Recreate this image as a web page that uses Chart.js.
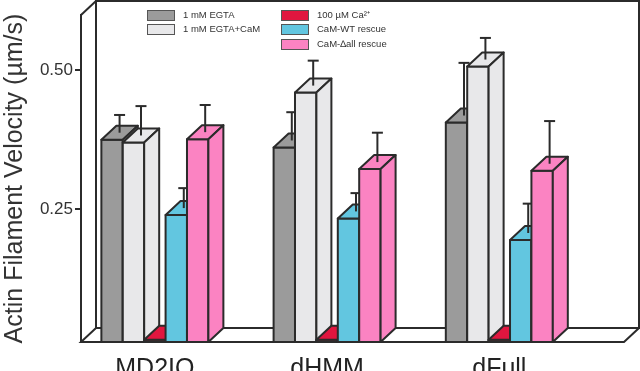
<!DOCTYPE html>
<html>
<head>
<meta charset="utf-8">
<script src="https://cdn.jsdelivr.net/npm/chart.js@4.4.0/dist/chart.umd.min.js"></script>
<style>
  html, body { margin: 0; padding: 0; background: #fff; }
  canvas { display: block; }
</style>
</head>
<body>
<canvas id="chart" width="640" height="371"></canvas>
<script>
// categories and series (velocities in um/s)
const categories = ['MD2IQ', 'dHMM', 'dFull'];
const seriesLabels = ['1 mM EGTA', '1 mM EGTA+CaM', '100 µM Ca²⁺', 'CaM-WT rescue', 'CaM-∆all rescue'];
const seriesColors = ['#9b9b9b', '#e8e8ea', '#e0163f', '#62c6e0', '#fb83c2'];

const egta = [0.375, 0.361, 0.406];
const egtaCaM = [0.370, 0.460, 0.507];
const calcium = [0.014, 0.014, 0.014];
const camWT = [0.239, 0.233, 0.194];
const camDall = [0.376, 0.322, 0.319];

// error bars (upper only)
const egtaErr = [0.032, 0.051, 0.095];
const egtaCaMErr = [0.053, 0.045, 0.039];
const calciumErr = [0, 0, 0];
const camWTErr = [0.036, 0.033, 0.053];
const camDallErr = [0.049, 0.053, 0.077];

const yMin = 0.01, yMax = 0.6;
const yTicks = [0.25, 0.50];

const seriesValues = [egta, egtaCaM, calcium, camWT, camDall];
const seriesErrors = [egtaErr, egtaCaMErr, calciumErr, camWTErr, camDallErr];

// depth offset of the fake 3D boxes
const DX = 15, DY = -14;
const OUTLINE = '#2b2b2b';

function poly(ctx, pts, fill) {
  ctx.beginPath();
  ctx.moveTo(pts[0][0], pts[0][1]);
  for (let i = 1; i < pts.length; i++) ctx.lineTo(pts[i][0], pts[i][1]);
  ctx.closePath();
  if (fill) { ctx.fillStyle = fill; ctx.fill(); }
  ctx.stroke();
}

function line(ctx, x1, y1, x2, y2) {
  ctx.beginPath();
  ctx.moveTo(x1, y1);
  ctx.lineTo(x2, y2);
  ctx.stroke();
}

// back wall + floor, drawn under the bars
const frame3d = {
  id: 'frame3d',
  beforeDatasetsDraw(chart) {
    const { ctx, chartArea: a } = chart;
    ctx.save();
    ctx.strokeStyle = OUTLINE;
    ctx.lineWidth = 2;
    ctx.strokeRect(a.left + DX, a.top + DY, a.right - a.left, a.bottom - a.top);
    poly(ctx, [[a.left, a.bottom], [a.right, a.bottom], [a.right + DX, a.bottom + DY], [a.left + DX, a.bottom + DY]], '#fff');
    line(ctx, a.left, a.top, a.left + DX, a.top + DY);
    ctx.restore();
  },
  // boxes redrawn left to right so neighbours hide the side faces
  afterDatasetsDraw(chart) {
    const ctx = chart.ctx;
    const yScale = chart.scales.y;
    ctx.save();
    ctx.strokeStyle = OUTLINE;
    ctx.lineWidth = 2;
    ctx.lineJoin = 'round';
    categories.forEach((c, i) => {
      chart.data.datasets.forEach((ds, d) => {
        const bar = chart.getDatasetMeta(d).data[i];
        const { x, y, base, width } = bar.getProps(['x', 'y', 'base', 'width'], true);
        const l = x - width / 2, r = x + width / 2;
        const col = ds.backgroundColor;
        poly(ctx, [[l, base], [l, y], [r, y], [r, base]], col);
        poly(ctx, [[l, y], [l + DX, y + DY], [r + DX, y + DY], [r, y]], col);
        poly(ctx, [[r, y], [r + DX, y + DY], [r + DX, base + DY], [r, base]], col);

        const err = seriesErrors[d][i];
        if (err > 0) {
          const ex = x + DX / 2;
          const ey = y + DY / 2;
          const cap = yScale.getPixelForValue(ds.data[i].y + err) + DY / 2;
          line(ctx, ex, ey, ex, cap);
          line(ctx, ex - 5.5, cap, ex + 5.5, cap);
        }
      });
    });
    ctx.restore();
  }
};

// two-column legend inside the plot
const legendBox = {
  id: 'legendBox',
  afterDraw(chart) {
    const ctx = chart.ctx;
    const slots = [[147, 10], [147, 24], [281, 10], [281, 24], [281, 39]];
    ctx.save();
    ctx.font = '9.5px "Liberation Sans", Arial, sans-serif';
    ctx.textBaseline = 'middle';
    ctx.strokeStyle = '#555';
    ctx.lineWidth = 1;
    chart.data.datasets.forEach((ds, d) => {
      const [sx, sy] = slots[d];
      ctx.fillStyle = ds.backgroundColor;
      ctx.fillRect(sx, sy, 27, 10);
      ctx.strokeRect(sx + 0.5, sy + 0.5, 27, 10);
      ctx.fillStyle = '#333';
      ctx.fillText(ds.label, sx + 36, sy + 5.5);
    });
    ctx.restore();
  }
};

const datasets = seriesLabels.map((label, d) => ({
  label: label,
  data: seriesValues[d].map((v, i) => ({ x: i + 1, y: v })),
  backgroundColor: seriesColors[d],
  borderWidth: 0,
  base: yMin,
  barThickness: 21.4
}));

new Chart(document.getElementById('chart'), {
  type: 'bar',
  data: { datasets: datasets },
  options: {
    responsive: false,
    animation: false,
    layout: { padding: { left: 0, right: 16, top: 15, bottom: 0 } },
    plugins: {
      legend: { display: false },
      tooltip: { enabled: false }
    },
    scales: {
      x: {
        type: 'linear',
        min: 0.571,
        max: 3.724,
        offset: false,
        afterBuildTicks: s => { s.ticks = categories.map((c, i) => ({ value: i + 1 })); },
        afterFit: s => { s.height = 29; },
        grid: { display: false, drawTicks: false },
        border: { display: false },
        ticks: {
          callback: v => categories[v - 1] || '',
          font: { family: '"Liberation Sans", Arial, sans-serif', size: 25 },
          color: '#222',
          padding: 12,
          maxRotation: 0,
          autoSkip: false
        }
      },
      y: {
        min: yMin,
        max: yMax,
        afterBuildTicks: s => { s.ticks = yTicks.map(v => ({ value: v })); },
        afterFit: s => { s.width = 81; },
        grid: { drawOnChartArea: false, drawTicks: true, tickLength: 6, color: OUTLINE, lineWidth: 2 },
        border: { display: true, color: OUTLINE, width: 2 },
        ticks: {
          callback: v => v.toFixed(2),
          font: { family: '"Liberation Sans", Arial, sans-serif', size: 17 },
          color: '#333',
          padding: 2
        },
        title: {
          display: true,
          text: 'Actin Filament Velocity (µm/s)',
          font: { family: '"Liberation Sans", Arial, sans-serif', size: 25 },
          color: '#333',
          padding: { top: 0, bottom: 0 }
        }
      }
    }
  },
  plugins: [frame3d, legendBox]
});
</script>
</body>
</html>
